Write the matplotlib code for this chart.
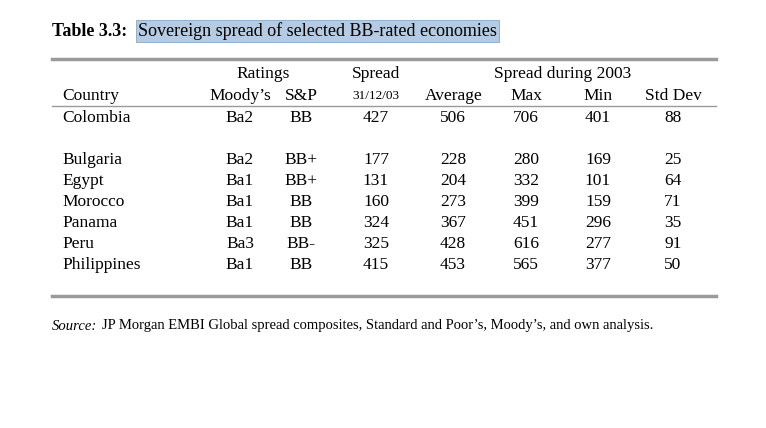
import matplotlib.pyplot as plt

countries = ["Colombia", "Bulgaria", "Egypt", "Morocco", "Panama", "Peru", "Philippines"]
moodys = ["Ba2", "Ba2", "Ba1", "Ba1", "Ba1", "Ba3", "Ba1"]
sp = ["BB", "BB+", "BB+", "BB", "BB", "BB-", "BB"]
spread = [427, 177, 131, 160, 324, 325, 415]
average = [506, 228, 204, 273, 367, 428, 453]
smax = [706, 280, 332, 399, 451, 616, 565]
smin = [401, 169, 101, 159, 296, 277, 377]
stdev = [88, 25, 64, 71, 35, 91, 50]

W, H = 766, 428
fig = plt.figure(figsize=(W / 100, H / 100), dpi=100)
plt.rcParams['font.family'] = ['Liberation Serif', 'DejaVu Serif']

def T(x, y, s, **kw):
    kw.setdefault('fontsize', 12.5)
    kw.setdefault('va', 'center')
    fig.text(x / W, 1 - y / H, s, **kw)

def rule(y, lw, color):
    fig.add_artist(plt.Line2D([52 / W, 716 / W], [1 - y / H] * 2, lw=lw, color=color))

# title
T(52, 31, "Table 3.3:", fontweight='bold', fontsize=13)
T(138, 31, "Sovereign spread of selected BB-rated economies", fontsize=13,
  bbox=dict(boxstyle='square,pad=0.1', fc='#b4cbe3', ec='#8aa8c8', lw=0.6))

rule(59, 2.5, '#9a9a9a')
rule(106, 1.0, '#9a9a9a')
rule(296, 2.5, '#9a9a9a')

# headers
T(263, 74, "Ratings", ha='center')
T(376, 74, "Spread", ha='center')
T(563, 74, "Spread during 2003", ha='center')
T(62, 96, "Country", ha='left')
T(240, 96, "Moody\u2019s", ha='center')
T(301, 96, "S&P", ha='center')
T(376, 96, "31/12/03", ha='center', fontsize=9.5)
T(454, 96, "Average", ha='center')
T(526, 96, "Max", ha='center')
T(598, 96, "Min", ha='center')
T(673, 96, "Std Dev", ha='center')

rows_y = [118, 160, 181, 202, 223, 244, 265]
for i, y in enumerate(rows_y):
    T(62, y, countries[i], ha='left')
    T(240, y, moodys[i], ha='center')
    T(301, y, sp[i], ha='center')
    T(376, y, str(spread[i]), ha='center')
    T(453, y, str(average[i]), ha='center')
    T(526, y, str(smax[i]), ha='center')
    T(598, y, str(smin[i]), ha='center')
    T(673, y, str(stdev[i]), ha='center')

T(52, 326, "Source:", fontsize=10.5, style='italic')
T(102, 326, "JP Morgan EMBI Global spread composites, Standard and Poor\u2019s, Moody\u2019s, and own analysis.",
  fontsize=10.5)

fig.savefig("out.png", dpi=100, facecolor='white')
